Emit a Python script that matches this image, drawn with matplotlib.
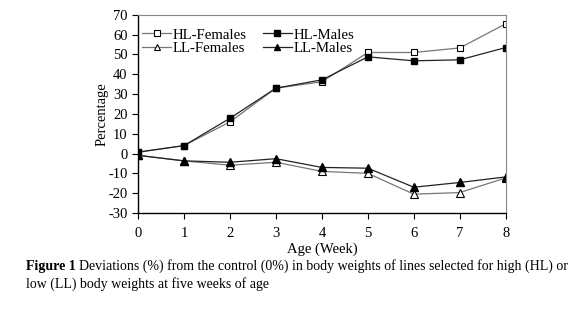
import matplotlib
matplotlib.use("Agg")
import matplotlib.pyplot as plt

weeks = [0, 1, 2, 3, 4, 5, 6, 7, 8]
hl_females = [0.7, 4.0, 16.0, 33.0, 36.2, 51.0, 51.0, 53.3, 65.5]
hl_males = [0.7, 4.0, 17.8, 33.0, 37.2, 48.8, 46.8, 47.3, 53.5]
ll_females = [-0.9, -3.7, -5.9, -4.4, -9.0, -10.0, -20.5, -19.7, -12.3]
ll_males = [-0.9, -3.7, -4.4, -2.6, -7.0, -7.4, -17.0, -14.6, -11.8]
yticks = list(range(-30, 71, 10))

plt.rcParams['font.family'] = ['Liberation Serif', 'DejaVu Serif']
plt.rcParams['axes.unicode_minus'] = False

fig = plt.figure(figsize=(5.8, 3.16), dpi=100)
ax = fig.add_axes([0.238, 0.326, 0.634, 0.627])

h1, = ax.plot(weeks, hl_females, color='#777777', lw=0.9, marker='s', ms=5,
              mfc='white', mec='black', mew=0.8, label='HL-Females')
h2, = ax.plot(weeks, hl_males, color='#222222', lw=0.9, marker='s', ms=5,
              mfc='black', mec='black', label='HL-Males')
h3, = ax.plot(weeks, ll_females, color='#777777', lw=0.9, marker='^', ms=5.5,
              mfc='white', mec='black', mew=0.8, label='LL-Females')
h4, = ax.plot(weeks, ll_males, color='#222222', lw=0.9, marker='^', ms=5.5,
              mfc='black', mec='black', label='LL-Males')

ax.set_xlim(0, 8)
ax.set_ylim(-30, 70)
ax.set_xticks(weeks)
ax.set_yticks(yticks)
ax.tick_params(labelsize=10.5, length=4, width=0.8, direction='out')
ax.tick_params(axis='x', pad=6)
for s in ['top', 'right']:
    ax.spines[s].set_color('#888888')
    ax.spines[s].set_linewidth(0.8)
for s in ['left', 'bottom']:
    ax.spines[s].set_color('black')
    ax.spines[s].set_linewidth(1.0)

ax.set_ylabel('Percentage', fontsize=10.5, labelpad=0)
ax.set_xlabel('Age (Week)', fontsize=10.5, labelpad=2)

ax.legend([h1, h3, h2, h4], ['HL-Females', 'LL-Females', 'HL-Males', 'LL-Males'],
          ncol=2, loc='upper left', frameon=False, fontsize=10.7,
          bbox_to_anchor=(0.0, 0.955), handlelength=1.9, handletextpad=0.15,
          columnspacing=1.1, labelspacing=0.02, borderaxespad=0.1,
          borderpad=0.2, markerscale=0.8)

t1 = fig.text(0.045, 0.145, 'Figure 1', fontsize=10, fontweight='bold', va='baseline')
fig.canvas.draw()
bb = t1.get_window_extent()
x2 = bb.x1 / fig.bbox.width
fig.text(x2 + 0.006, 0.145,
         'Deviations (%) from the control (0%) in body weights of lines selected for high (HL) or',
         fontsize=10, va='baseline')
fig.text(0.045, 0.09, 'low (LL) body weights at five weeks of age', fontsize=10, va='baseline')

fig.savefig('out.png', dpi=100)
